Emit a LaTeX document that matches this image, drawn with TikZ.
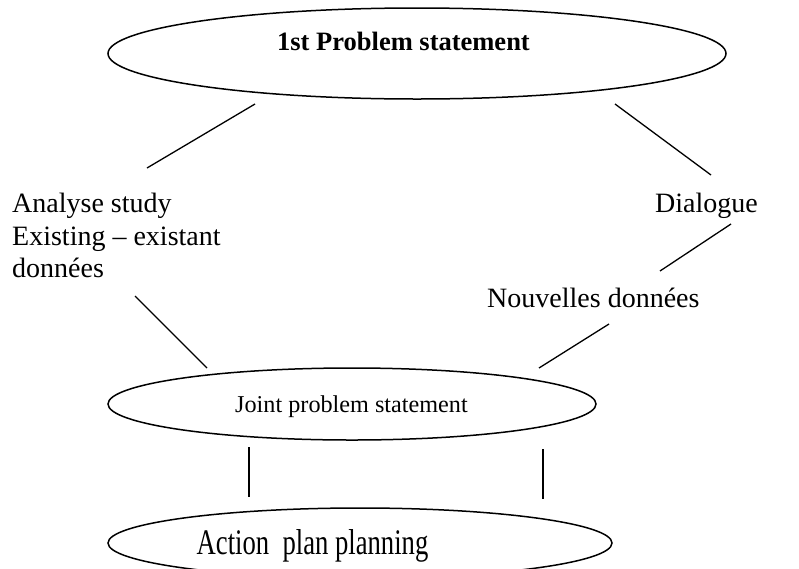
\documentclass[tikz,border=0pt]{standalone}
\usepackage{fontspec}
\setmainfont{Liberation Serif}
\usetikzlibrary{shapes.geometric}
\begin{document}
\begin{tikzpicture}[x=1pt,y=-1pt,
  oval/.style={draw,line width=1.5pt,ellipse,inner sep=0pt},
  txt/.style={inner sep=0pt,font=\fontsize{28}{33}\selectfont},
  conn/.style={line width=1.3pt}]
\useasboundingbox (0,0) rectangle (799,568);
% ellipses
\node[oval,minimum width=618,minimum height=91] (top) at (417,53.5) {};
\node[oval,minimum width=488,minimum height=72] (joint) at (352,404) {};
\node[oval,minimum width=504,minimum height=70] (action) at (360,543) {};
% texts
\node[txt,anchor=base,font=\fontsize{26.5}{30}\selectfont\bfseries] (toptxt) at (403.5,50) {1st Problem statement};
\node[txt,anchor=base,font=\fontsize{24.2}{28}\selectfont] (jointtxt) at (351.5,412) {Joint problem statement};
\node[txt,anchor=base] (actiontxt) at (312.5,554) {\scalebox{0.74}[1]{\fontsize{36}{40}\selectfont Action\ \ plan planning}};
\node[txt,anchor=base west] (l1) at (12,212) {Analyse study};
\node[txt,anchor=base west] (l2) at (12,245) {Existing – existant};
\node[txt,anchor=base west] (l3) at (12,277) {données};
\node[txt,anchor=base east] (dia) at (758,212) {Dialogue};
\node[txt,anchor=base west] (nouv) at (487,307) {Nouvelles données};
% connector ends
\coordinate (a1) at (255,104); \coordinate (a2) at (147,168);
\coordinate (b1) at (615,104); \coordinate (b2) at (711,175);
\coordinate (c1) at (135,296); \coordinate (c2) at (207,368);
\coordinate (d1) at (731,224); \coordinate (d2) at (660,271);
\coordinate (e1) at (609,324); \coordinate (e2) at (539,368);
\coordinate (f1) at (249,447); \coordinate (f2) at (249,497);
\coordinate (g1) at (543,449); \coordinate (g2) at (543,499);
\draw[conn] (a1) -- (a2);
\draw[conn] (b1) -- (b2);
\draw[conn] (c1) -- (c2);
\draw[conn] (d1) -- (d2);
\draw[conn] (e1) -- (e2);
\draw[conn] (f1) -- (f2);
\draw[conn] (g1) -- (g2);
\end{tikzpicture}
\end{document}
